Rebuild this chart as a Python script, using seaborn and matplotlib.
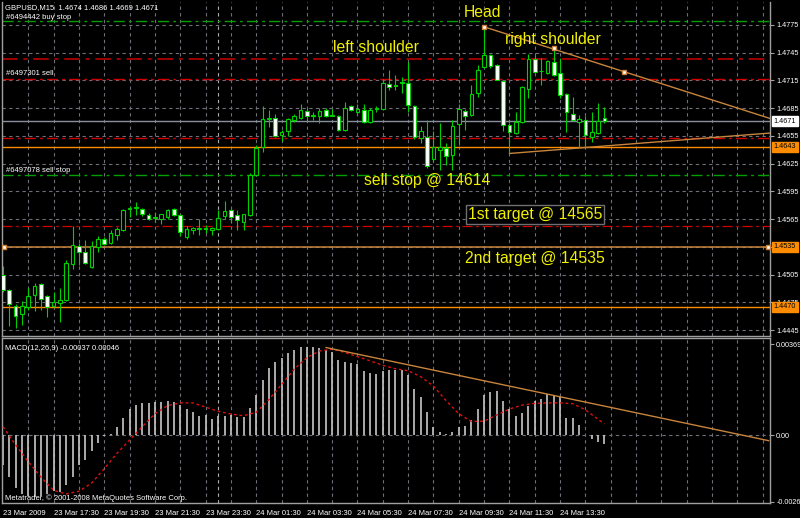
import matplotlib
matplotlib.use("Agg")
import matplotlib.pyplot as plt
import matplotlib.transforms as mtransforms
import pandas as pd
import seaborn as sns

# GBPUSD M15 candles, 23 Mar 2009 15:30 -> 24 Mar 2009 15:15
opens = [1.4505, 1.4488, 1.4471, 1.4462, 1.4470, 1.4483, 1.4495, 1.4482, 1.4471, 1.4474,
         1.4477, 1.4516, 1.4536, 1.4529, 1.4513, 1.4535, 1.4543, 1.4539, 1.4548, 1.4553,
         1.4576, 1.4577, 1.4576, 1.4569, 1.4566, 1.4565, 1.4567, 1.4576, 1.4569, 1.4546,
         1.4553, 1.4554, 1.4555, 1.4553, 1.4554, 1.4568, 1.4575, 1.4569, 1.4562, 1.4569,
         1.4613, 1.4643, 1.4673, 1.4674, 1.4656, 1.4660, 1.4672, 1.4674, 1.4682, 1.4678,
         1.4677, 1.4683, 1.4678, 1.4677, 1.4661, 1.4687, 1.4681, 1.4683, 1.4670, 1.4684,
         1.4684, 1.4711, 1.4710, 1.4712, 1.4712, 1.4687, 1.4653, 1.4654, 1.4630, 1.4640,
         1.4642, 1.4634, 1.4668, 1.4682, 1.4678, 1.4701, 1.4730, 1.4743, 1.4732, 1.4714,
         1.4667, 1.4658, 1.4670, 1.4706, 1.4738, 1.4725, 1.4723, 1.4735, 1.4723, 1.4700,
         1.4679, 1.4670, 1.4672, 1.4654, 1.4658, 1.4674]
highs = [1.4514, 1.4489, 1.4473, 1.4476, 1.4491, 1.4496, 1.4496, 1.4483, 1.4486, 1.4491,
         1.4521, 1.4558, 1.4539, 1.4542, 1.4541, 1.4547, 1.4546, 1.4553, 1.4557, 1.4576,
         1.4579, 1.4584, 1.4577, 1.4572, 1.4573, 1.4571, 1.4576, 1.4577, 1.4570, 1.4558,
         1.4557, 1.4565, 1.4559, 1.4556, 1.4575, 1.4585, 1.4576, 1.4575, 1.4571, 1.4615,
         1.4645, 1.4687, 1.4683, 1.4679, 1.4661, 1.4674, 1.4679, 1.4690, 1.4685, 1.4681,
         1.4685, 1.4685, 1.4684, 1.4678, 1.4692, 1.4688, 1.4690, 1.4690, 1.4685, 1.4687,
         1.4717, 1.4726, 1.4721, 1.4719, 1.4735, 1.4688, 1.4666, 1.4672, 1.4660, 1.4669,
         1.4647, 1.4672, 1.4690, 1.4684, 1.4710, 1.4732, 1.4773, 1.4744, 1.4733, 1.4714,
         1.4669, 1.4681, 1.4709, 1.4744, 1.4743, 1.4739, 1.4737, 1.4750, 1.4739, 1.4701,
         1.4697, 1.4678, 1.4676, 1.4681, 1.4691, 1.4686]
lows = [1.4486, 1.4449, 1.4447, 1.4450, 1.4467, 1.4466, 1.4467, 1.4459, 1.4470, 1.4454,
        1.4476, 1.4511, 1.4515, 1.4516, 1.4512, 1.4529, 1.4537, 1.4538, 1.4542, 1.4552,
        1.4567, 1.4569, 1.4568, 1.4564, 1.4562, 1.4560, 1.4565, 1.4568, 1.4547, 1.4543,
        1.4549, 1.4548, 1.4550, 1.4548, 1.4553, 1.4565, 1.4561, 1.4553, 1.4553, 1.4568,
        1.4612, 1.4638, 1.4665, 1.4654, 1.4649, 1.4655, 1.4670, 1.4673, 1.4671, 1.4672,
        1.4669, 1.4675, 1.4676, 1.4660, 1.4660, 1.4682, 1.4679, 1.4669, 1.4669, 1.4681,
        1.4683, 1.4705, 1.4705, 1.4701, 1.4681, 1.4652, 1.4647, 1.4620, 1.4627, 1.4618,
        1.4624, 1.4618, 1.4645, 1.4661, 1.4677, 1.4697, 1.4728, 1.4728, 1.4715, 1.4660,
        1.4636, 1.4657, 1.4669, 1.4696, 1.4723, 1.4710, 1.4722, 1.4720, 1.4696, 1.4659,
        1.4671, 1.4642, 1.4643, 1.4648, 1.4657, 1.4669]
closes = [1.4488, 1.4473, 1.4460, 1.4471, 1.4482, 1.4493, 1.4479, 1.4470, 1.4475, 1.4477,
          1.4518, 1.4537, 1.4529, 1.4517, 1.4536, 1.4544, 1.4538, 1.4550, 1.4554, 1.4575,
          1.4577, 1.4578, 1.4570, 1.4565, 1.4567, 1.4570, 1.4575, 1.4569, 1.4551, 1.4554,
          1.4555, 1.4555, 1.4554, 1.4555, 1.4566, 1.4574, 1.4567, 1.4564, 1.4570, 1.4613,
          1.4642, 1.4673, 1.4674, 1.4655, 1.4659, 1.4673, 1.4676, 1.4683, 1.4677, 1.4676,
          1.4682, 1.4677, 1.4677, 1.4661, 1.4685, 1.4683, 1.4684, 1.4670, 1.4683, 1.4685,
          1.4712, 1.4708, 1.4709, 1.4713, 1.4688, 1.4654, 1.4660, 1.4622, 1.4643, 1.4643,
          1.4633, 1.4666, 1.4684, 1.4677, 1.4700, 1.4726, 1.4742, 1.4731, 1.4716, 1.4667,
          1.4659, 1.4670, 1.4708, 1.4738, 1.4724, 1.4725, 1.4736, 1.4721, 1.4699, 1.4681,
          1.4672, 1.4673, 1.4656, 1.4659, 1.4671, 1.4671]

# MACD(12,26,9) histogram, in units of 0.0001
macd_hist = [-12.1, -16.9, -21.2, -23.7, -24.6, -25.0, -24.4, -23.7, -22.6, -23.0,
             -20.0, -16.9, -12.1, -9.8, -6.4, -3.3, -0.3, 0.5, 3.3, 6.9,
             10.6, 12.2, 13.1, 13.1, 13.6, 13.6, 13.9, 13.6, 12.4, 10.6,
             9.3, 7.9, 8.3, 6.5, 7.9, 7.9, 8.2, 7.3, 7.3, 10.9,
             16.1, 22.3, 27.3, 29.7, 31.3, 33.2, 34.3, 35.5, 35.5, 35.5,
             35.1, 34.6, 33.5, 30.3, 29.8, 29.4, 28.7, 26.0, 25.0, 24.6,
             26.0, 26.3, 26.4, 26.4, 24.2, 18.8, 15.4, 9.3, 3.3, 1.5,
             0.5, 1.4, 3.3, 3.8, 6.3, 10.6, 16.1, 17.4, 17.8, 14.0,
             10.6, 7.6, 9.0, 12.0, 14.0, 14.7, 16.5, 16.2, 15.4, 6.8,
             6.9, 4.1, 0.0, -1.6, -2.7, -3.7]
signal_bars = [0, 2, 4, 6, 8, 10, 12, 14, 16, 18, 20, 22, 24, 26, 28, 30, 32, 34, 36, 38,
               40, 42, 44, 46, 48, 50, 52, 54, 56, 58, 60, 62, 64, 66, 68, 70, 72, 74, 76, 78,
               80, 82, 84, 86, 88, 90, 92, 94, 95]
signal_vals = [3.5, -3.9, -10.7, -16.9, -22.3, -23.7, -22.6, -19.3, -13.5, -7.3,
               -1.9, 3.5, 8.7, 12.0, 13.1, 13.1, 11.4, 9.7, 8.6, 7.9,
               9.3, 14.4, 20.5, 26.7, 31.4, 34.1, 34.8, 33.5, 31.8, 30.1,
               28.3, 26.9, 26.1, 23.7, 19.9, 14.0, 8.7, 5.6, 5.7, 8.2,
               10.6, 12.2, 12.9, 13.1, 13.1, 12.8, 10.3, 6.5, 4.6]

time_labels = ["23 Mar 2009", "23 Mar 17:30", "23 Mar 19:30", "23 Mar 21:30",
               "23 Mar 23:30", "24 Mar 01:30", "24 Mar 03:30", "24 Mar 05:30",
               "24 Mar 07:30", "24 Mar 09:30", "24 Mar 11:30", "24 Mar 13:30"]
price_ticks = [1.4775, 1.4745, 1.4715, 1.4685, 1.4655, 1.4625, 1.4595,
               1.4565, 1.4535, 1.4505, 1.4475, 1.4445]
macd_ticks = [0.00369, 0.0, -0.00268]
macd_tick_labels = ["0.00369", "0.00", "-0.00268"]

# order lines and levels
buy_stop = 1.4779
sl_upper = 1.4738
sell_order = 1.4717
bid = 1.4671
sl_lower = 1.4653
neck_level = 1.4643
sell_stop = 1.4613
target1_line = 1.4558
target2 = 1.4535
low_level = 1.4470

# trend lines: (bar, price)
head_line = [(76, 1.4773), (87, 1.4750), (98.1, 1.47245)]
neck_line = [(80, 1.4636), (121, 1.4658)]
macd_line = [(51, 0.00355), (121, -0.00022)]

sns.set_style("dark", {"axes.facecolor": "black", "figure.facecolor": "black"})
plt.rcParams['font.family'] = ['Liberation Sans', 'DejaVu Sans']

GRID = "#6e6e78"
GREEN = "#00d000"
FG = "white"
SMALL = 5.5
AXIS = 5.2

df = pd.DataFrame({"open": opens, "high": highs, "low": lows, "close": closes})
df["bar"] = range(len(df))

fig = plt.figure(figsize=(8, 5.18), dpi=100)
fig.patch.set_facecolor("black")
ax = fig.add_axes([0.0025, 0.3504, 0.96, 0.6458])
ax2 = fig.add_axes([0.0025, 0.0280, 0.96, 0.3195])

xmin, xmax = -0.158, 121.17
for a in (ax, ax2):
    a.set_facecolor("black")
    a.set_xlim(xmin, xmax)
    for s in a.spines.values():
        s.set_color("#a0a0a0")
        s.set_linewidth(1)
    # vertical grid every hour
    for b in range(4, 121, 4):
        a.axvline(b, color=GRID, lw=0.8, ls=(0, (3, 3)), zorder=0)
    a.axvline(34, color="#b0b0b0", lw=0.8, ls=(0, (3, 3)), zorder=0)
ax.spines["top"].set_visible(False)

ax.set_ylim(1.443802, 1.479988)
for p in price_ticks:
    ax.axhline(p, color=GRID, lw=0.8, ls=(0, (3, 3)), zorder=0)

dashdot = (0, (8, 3, 2, 3))
ax.axhline(buy_stop, color="#00a000", lw=1, ls=dashdot, zorder=1)
ax.axhline(sl_upper, color="#a00000", lw=1.4, ls=dashdot, zorder=1)
ax.axhline(sell_order, color="#d00000", lw=1, ls=dashdot, zorder=1)
ax.axhline(bid, color="#8890a0", lw=1, zorder=1)
ax.axhline(sl_lower, color="#d00000", lw=1, ls=dashdot, zorder=1)
ax.axhline(neck_level, color="#ff8c00", lw=1, zorder=1)
ax.axhline(sell_stop, color="#00a000", lw=1, ls=dashdot, zorder=1)
ax.axhline(target1_line, color="#d00000", lw=0.9, ls=dashdot, zorder=1)
ax.axhline(target2, color="#c8843c", lw=1.1, zorder=1)
ax.axhline(low_level, color="#ff8c00", lw=1, zorder=1)
ax.plot([0.15, 120.8], [target2, target2], "s", ms=3, mfc="white", mec="#c8843c", zorder=5)

# trend lines
(hx0, hy0), _, (hx1, hy1) = head_line
slope = (hy1 - hy0) / (hx1 - hx0)
ax.plot([hx0, xmax], [hy0, hy0 + slope * (xmax - hx0)], color="#c8843c", lw=1, zorder=2)
ax.plot([p[0] for p in head_line], [p[1] for p in head_line], "s", ms=3.2,
        mfc="white", mec="#c8843c", zorder=6)
(nx0, ny0), (nx1, ny1) = neck_line
nslope = (ny1 - ny0) / (nx1 - nx0)
ax.plot([nx0, xmax], [ny0, ny0 + nslope * (xmax - nx0)], color="#c8843c", lw=1, zorder=2)

# candles
ax.vlines(df["bar"], df["low"], df["high"], color=GREEN, lw=0.8, zorder=3)
bear = df["close"] < df["open"]
body = (df["close"] - df["open"]).abs().clip(lower=0.00001)
bottom = df[["open", "close"]].min(axis=1)
ax.bar(df["bar"], body, bottom=bottom, width=0.58,
       color=["white" if b else "black" for b in bear],
       edgecolor=GREEN, linewidth=0.8, zorder=4)

ax.yaxis.tick_right()
ax.set_yticks(price_ticks)
ax.set_yticklabels([f"{p:.4f}" for p in price_ticks])
ax.tick_params(axis="y", length=3, color="#a0a0a0", labelcolor=FG, labelsize=AXIS, pad=1.5)
ax.tick_params(axis="x", length=0, labelbottom=False)
ax.grid(False)

yt = mtransforms.blended_transform_factory(ax.transAxes, ax.transData)
for val, fc in [(bid, "white"), (neck_level, "#ff8c00"), (target2, "#ff8c00"), (low_level, "#ff8c00")]:
    ax.text(1.005, val, f"{val:.4f}", transform=yt, ha="left", va="center", fontsize=AXIS,
            color="black", clip_on=False, zorder=10,
            bbox=dict(boxstyle="square,pad=0.25", fc=fc, ec=fc))

ax.text(0.004, 1.4794, "GBPUSD,M15  1.4674 1.4686 1.4669 1.4671", fontsize=SMALL, color=FG,
        transform=yt, va="center")
ax.text(0.005, 1.47835, "#6494442 buy stop", fontsize=SMALL, color=FG, transform=yt, va="center")
ax.text(0.005, 1.4722, "#6497301 sell", fontsize=SMALL, color=FG, transform=yt, va="center")
ax.text(0.005, 1.4618, "#6497078 sell stop", fontsize=SMALL, color=FG, transform=yt, va="center")

YEL = "#f0f000"
BIG = 11.3
ax.text(75.8, 1.4788, "Head", color=YEL, fontsize=BIG, ha="center", va="center", zorder=8)
ax.text(58.9, 1.4751, "left shoulder", color=YEL, fontsize=BIG, ha="center", va="center", zorder=8)
ax.text(86.9, 1.4759, "right shoulder", color=YEL, fontsize=BIG, ha="center", va="center", zorder=8)
ax.text(67.0, 1.4607, "sell stop @ 14614", color=YEL, fontsize=BIG, ha="center", va="center", zorder=8)
ax.text(84.0, 1.4570, "1st target @ 14565", color=YEL, fontsize=BIG, ha="center", va="center",
        zorder=8, bbox=dict(boxstyle="square,pad=0.12", fc="black", ec="#707070", lw=1))
ax.text(84.0, 1.4522, "2nd target @ 14535", color=YEL, fontsize=BIG, ha="center", va="center", zorder=8)

# MACD panel
ax2.set_ylim(-0.002757, 0.003933)
ax2.axhline(0, color=GRID, lw=0.8, ls=(0, (3, 3)), zorder=0)
hist = pd.Series(macd_hist) * 1e-4
ax2.vlines(range(len(hist)), 0, hist, color="#c8c8c8", lw=1.2, zorder=2)
sig = pd.DataFrame({"bar": signal_bars, "val": [v * 1e-4 for v in signal_vals]})
sns.lineplot(data=sig, x="bar", y="val", ax=ax2, color="#e01010", lw=1,
             linestyle=(0, (2, 2)), zorder=3)
(mx0, my0), (mx1, my1) = macd_line
ax2.plot([mx0, mx1], [my0, my1], color="#c8843c", lw=1, zorder=4)

ax2.yaxis.tick_right()
ax2.set_yticks(macd_ticks)
ax2.set_yticklabels(macd_tick_labels)
ax2.tick_params(axis="y", length=3, color="#a0a0a0", labelcolor=FG, labelsize=AXIS, pad=1.5)
ax2.set_xticks(range(0, 89, 8))
ax2.set_xticklabels(time_labels, ha="left")
ax2.tick_params(axis="x", length=3, color="#a0a0a0", labelcolor=FG, labelsize=SMALL, pad=1.5)
ax2.set_xlabel("")
ax2.set_ylabel("")
ax2.grid(False)

ax2.text(0.004, 0.955, "MACD(12,26,9) -0.00037 0.00046", transform=ax2.transAxes,
         fontsize=SMALL, color=FG, va="top")
ax2.text(0.004, 0.012, "Metatrader, \u00a9 2001-2008 MetaQuotes Software Corp.",
         transform=ax2.transAxes, fontsize=SMALL, color=FG, va="bottom")

fig.savefig("out.png", dpi=100, facecolor="black")
